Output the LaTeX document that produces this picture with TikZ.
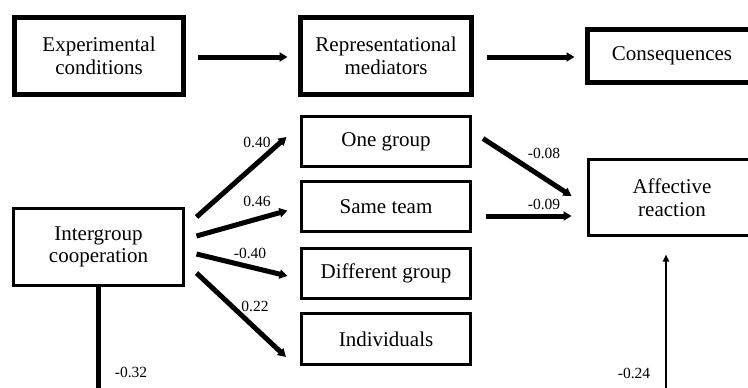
\documentclass[tikz,border=0pt]{standalone}
\usepackage{fontspec}
\setmainfont{Liberation Serif}
\usetikzlibrary{arrows.meta,calc}
\newcommand{\dgboxfont}{\fontsize{21bp}{22.5bp}\selectfont}
\newcommand{\dgcoeffont}{\fontsize{15.5bp}{17bp}\selectfont}
\begin{document}
\begin{tikzpicture}[x=1bp,y=-1bp,
  thickbox/.style={draw, line width=5bp, inner sep=0pt, align=center, font=\dgboxfont},
  thinbox/.style={draw, line width=3bp, inner sep=0pt, align=center, font=\dgboxfont},
  bigarrow/.style={line width=5bp, -{Triangle[length=8bp,width=9bp]}},
  smallarrow/.style={line width=2bp, -{Triangle[length=7bp,width=6bp]}},
  coef/.style={font=\dgcoeffont, inner sep=0pt}]
\clip (0,0) rectangle (748,387);
% top row
\node[thickbox, minimum width=169bp, minimum height=77bp] (exp) at (99,56) {Experimental\\conditions};
\node[thickbox, minimum width=171bp, minimum height=77bp] (rep) at (386,56) {Representational\\mediators};
\node[thickbox, minimum width=169bp, minimum height=53bp] (cons) at (672,56) {Consequences};
\draw[bigarrow] ($(exp.east)+(11.5,1)$) -- ($(rep.west)+(-10.5,1)$);
\draw[bigarrow] ($(rep.east)+(12.5,1)$) -- ($(cons.west)+(-10.5,1)$);
% model
\node[thinbox, minimum width=170bp, minimum height=77bp] (inter) at (98.5,247) {Intergroup\\cooperation};
\node[thinbox, minimum width=169bp, minimum height=50bp] (one) at (386,141.5) {One group};
\node[thinbox, minimum width=169bp, minimum height=50bp] (same) at (386,206.5) {Same team};
\node[thinbox, minimum width=169bp, minimum height=50bp] (diff) at (386,273.5) {Different group};
\node[thinbox, minimum width=169bp, minimum height=51bp] (ind) at (386,339) {Individuals};
\node[thinbox, minimum width=167bp, minimum height=76bp] (aff) at (672,197.5) {Affective\\reaction};
\draw[bigarrow] ($(inter.east)+(11.5,-30)$) -- ($(one.west)+(-13.5,-4.5)$);
\draw[bigarrow] ($(inter.east)+(11.5,-11)$) -- ($(same.west)+(-12.5,4)$);
\draw[bigarrow] ($(inter.east)+(11.5,7)$) -- ($(diff.west)+(-12.5,2.5)$);
\draw[bigarrow] ($(inter.east)+(11.5,26)$) -- ($(ind.west)+(-14,18)$);
\draw[bigarrow] ($(one.east)+(11,-3)$) -- ($(aff.west)+(-15.5,-1.5)$);
\draw[bigarrow] ($(same.east)+(13.5,9.5)$) -- ($(aff.west)+(-15.5,18.5)$);
\coordinate (b1) at (99,400);
\coordinate (b2) at (666,400);
\draw[line width=5bp] (inter.south) -- (inter.south |- b1);
\draw[smallarrow] (b2) -- ($(aff.south)+(-6,17.5)$);
% coefficients
\node[coef] (c1) at (257,142) {0.40};
\node[coef] (c2) at (257,201) {0.46};
\node[coef] (c3) at (250,253) {-0.40};
\node[coef] (c4) at (255,306) {0.22};
\node[coef] (c5) at (544,153) {-0.08};
\node[coef] (c6) at (544,204) {-0.09};
\node[coef] (c7) at (131,372) {-0.32};
\node[coef] (c8) at (634,373) {-0.24};
\end{tikzpicture}
\end{document}
